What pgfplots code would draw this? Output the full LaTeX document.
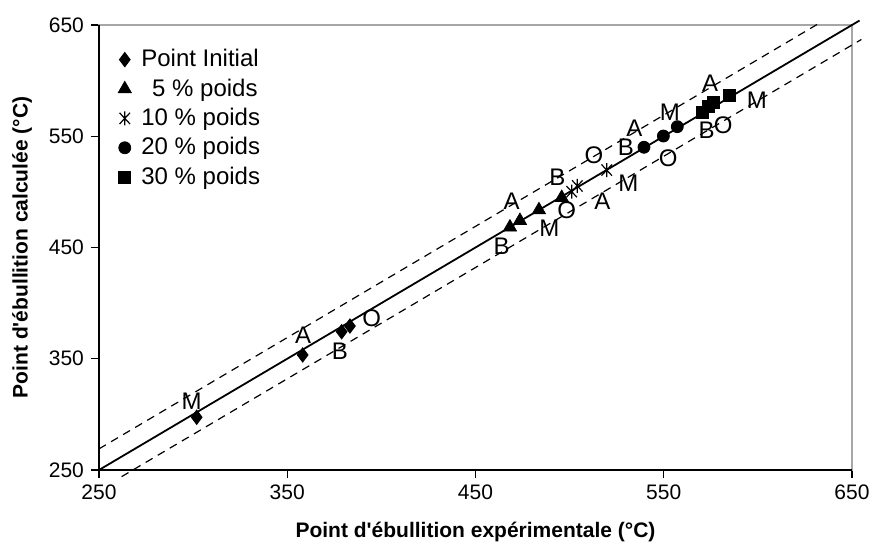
\documentclass[border=0pt]{standalone}
\usepackage{pgfplots}
\pgfplotsset{compat=1.18}
\usepackage{fontspec}
\setmainfont{Liberation Sans}[Ligatures=TeXOff]

% vertical bar with a cross, as in the reference
\pgfdeclareplotmark{xbar}{%
  \pgfpathmoveto{\pgfqpoint{-0.75\pgfplotmarksize}{-0.8\pgfplotmarksize}}%
  \pgfpathlineto{\pgfqpoint{0.75\pgfplotmarksize}{0.8\pgfplotmarksize}}%
  \pgfpathmoveto{\pgfqpoint{-0.75\pgfplotmarksize}{0.8\pgfplotmarksize}}%
  \pgfpathlineto{\pgfqpoint{0.75\pgfplotmarksize}{-0.8\pgfplotmarksize}}%
  \pgfpathmoveto{\pgfqpoint{0pt}{-\pgfplotmarksize}}%
  \pgfpathlineto{\pgfqpoint{0pt}{\pgfplotmarksize}}%
  \pgfusepathqstroke}

\begin{document}
\begin{tikzpicture}
\begin{axis}[
  name=ax,
  scale only axis,
  width=376.5pt, height=222.5pt,
  xmin=250, xmax=650, ymin=250, ymax=650,
  xtick={250,350,...,650}, ytick={250,350,...,650},
  tick align=outside, xtick pos=left, ytick pos=left,
  major tick length=4pt,
  tick style={black, line width=0.6pt},
  axis line style={gray!70, line width=0.7pt},
  ticklabel style={font=\fontsize{10.5}{12}\selectfont},
  /pgf/number format/assume math mode=true,
  /pgf/number format/1000 sep={},
  xlabel={\bfseries Point d'ébullition expérimentale (°C)},
  ylabel={\bfseries Point d'ébullition calculée (°C)},
  xlabel style={font=\fontsize{10.5}{12}\selectfont, at={(rel axis cs:0.5,0)}, anchor=center, yshift=-31pt},
  ylabel style={font=\fontsize{10.5}{12}\selectfont, at={(rel axis cs:0,0.5)}, anchor=center, yshift=38.5pt},
  legend style={draw=none, fill=none, at={(0.017,0.964)}, anchor=north west,
    font=\fontsize{12}{13}\selectfont, row sep=0.5pt, column sep=3pt},
  legend cell align=left,
  clip=false,
]
% diagonal y = x and +/- band
\addplot[black, line width=0.9pt, forget plot] coordinates {(250,250) (654,654)};
\addplot[black, line width=0.6pt, dash pattern=on 4pt off 3pt, forget plot] coordinates {(250,269) (632,651)};
\addplot[black, line width=0.6pt, dash pattern=on 4pt off 3pt, forget plot] coordinates {(262,244) (655,637)};

\addplot[only marks, mark=diamond*, mark size=3.6pt, black] coordinates {
  (301.9,297.4) (358.2,353.4) (378.9,374.3) (383.3,379.4)};
\addlegendentry{Point Initial}
\addplot[only marks, mark=triangle*, mark size=3.8pt, black] coordinates {
  (468.3,468.2) (473.6,474.1) (483.7,483.7) (495.8,494.8)};
\addlegendentry{\hspace{0.45em}5 \% poids}
\addplot[only marks, mark=xbar, mark size=3.5pt, black, mark options={line width=0.6pt}] coordinates {
  (501.1,500.2) (504.1,505.3) (519.7,519.6)};
\addlegendentry{10 \% poids}
\addplot[only marks, mark=*, mark size=3pt, black] coordinates {
  (539.5,540.1) (549.8,550.2) (557.2,558.6)};
\addlegendentry{20 \% poids}
\addplot[only marks, mark=square*, mark size=3pt, black] coordinates {
  (570.3,571.8) (573.5,577.1) (576.2,580.8) (584.7,587.0)};
\addlegendentry{30 \% poids}

% point labels
\begin{scope}[every node/.style={font=\fontsize{12}{12}\selectfont, inner sep=0pt}]
\node at (axis cs:299.2,311.4) {M};
\node at (axis cs:358.4,371.3) {A};
\node at (axis cs:378.0,356.3) {B};
\node at (axis cs:394.9,386.4) {O};
\node at (axis cs:469.2,491.2) {A};
\node at (axis cs:463.9,450.7) {B};
\node at (axis cs:489.2,467.3) {M};
\node at (axis cs:498.4,483.7) {O};
\node at (axis cs:493.5,513.1) {B};
\node at (axis cs:517.4,491.2) {A};
\node at (axis cs:531.2,507.7) {M};
\node at (axis cs:512.9,533.1) {O};
\node at (axis cs:529.9,540.1) {B};
\node at (axis cs:534.4,557.1) {A};
\node at (axis cs:553.3,571.2) {M};
\node at (axis cs:552.4,530.2) {O};
\node at (axis cs:574.6,597.6) {A};
\node at (axis cs:572.8,555.6) {B};
\node at (axis cs:581.6,560.1) {O};
\node at (axis cs:599.4,582.6) {M};
\end{scope}
\draw[black, line width=0.7pt] (rel axis cs:0,1) -- (rel axis cs:0,0) -- (rel axis cs:1,0);
\end{axis}
\pgfresetboundingbox
\path ([shift={(-49.5pt,-42pt)}]ax.south west) rectangle ([shift={(12pt,12.5pt)}]ax.north east);
\end{tikzpicture}
\end{document}
